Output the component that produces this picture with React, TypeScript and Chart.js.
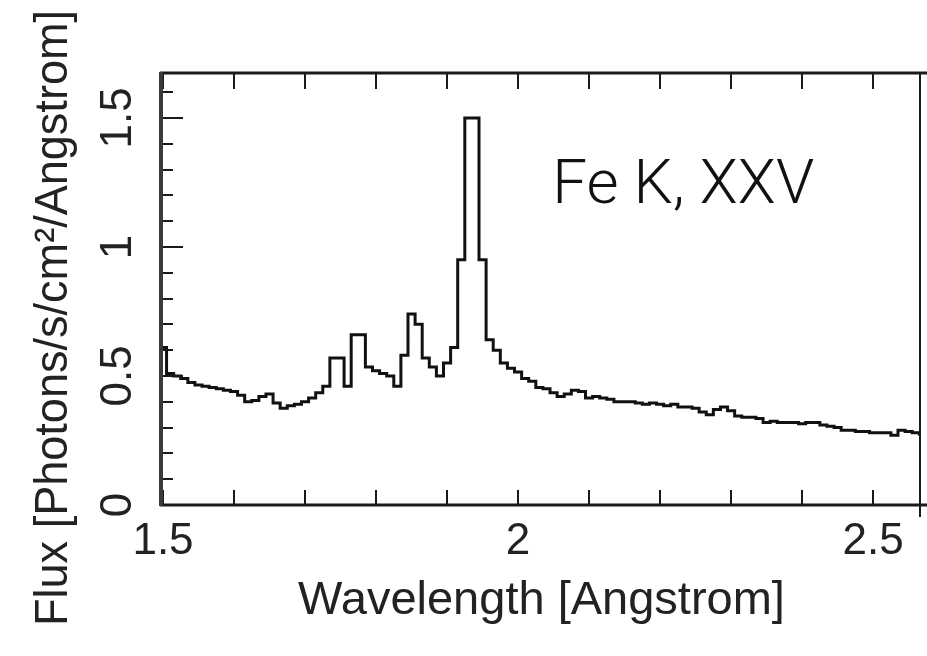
import { useEffect, useRef } from 'react';
import { Chart, registerables } from 'chart.js';

Chart.register(...registerables);

// ---- data ----
// Bin centres every 0.01 Angstrom starting at 1.50
const binStart = 1.5;
const binWidth = 0.01;
const flux = [
  0.61, 0.51, 0.50, 0.49, 0.475, 0.465, 0.46, 0.455, 0.45, 0.445,
  0.44, 0.425, 0.40, 0.405, 0.42, 0.43, 0.395, 0.375, 0.385, 0.39,
  0.40, 0.415, 0.435, 0.46, 0.57, 0.57, 0.46, 0.66, 0.66, 0.535,
  0.52, 0.51, 0.50, 0.46, 0.58, 0.74, 0.70, 0.57, 0.535, 0.50,
  0.55, 0.61, 0.95, 1.50, 1.50, 0.95, 0.64, 0.60, 0.55, 0.53,
  0.515, 0.49, 0.48, 0.455, 0.45, 0.435, 0.42, 0.43, 0.445, 0.44,
  0.415, 0.42, 0.415, 0.41, 0.40, 0.40, 0.40, 0.395, 0.39, 0.395,
  0.39, 0.385, 0.39, 0.38, 0.38, 0.375, 0.36, 0.35, 0.37, 0.38,
  0.365, 0.345, 0.34, 0.34, 0.335, 0.32, 0.325, 0.32, 0.32, 0.32,
  0.315, 0.32, 0.32, 0.31, 0.305, 0.30, 0.29, 0.29, 0.285, 0.285,
  0.28, 0.28, 0.28, 0.27, 0.29, 0.285, 0.28, 0.275,
];

const xTicks = [1.5, 1.6, 1.7, 1.8, 1.9, 2.0, 2.1, 2.2, 2.3, 2.4, 2.5];
const xTickLabels = ['1.5', '', '', '', '', '2', '', '', '', '', '2.5'];
const yTicks = [0, 0.1, 0.2, 0.3, 0.4, 0.5, 0.6, 0.7, 0.8, 0.9, 1.0, 1.1, 1.2, 1.3, 1.4, 1.5, 1.6];
const yTickLabels = ['0', '', '', '', '', '0.5', '', '', '', '', '1', '', '', '', '', '1.5', ''];
const yMajorTicks = [0, 0.5, 1.0, 1.5];

const xMin = 1.5;
const xMax = 2.566;
const yMin = 0;
const yMax = 1.674;

const xTitle = 'Wavelength [Angstrom]';
const yTitle = 'Flux [Photons/s/cm²/Angstrom]';
const annotationText = 'Fe K, XXV';
const annotationX = 2.048;
const annotationY = 1.17;

const FONT = "'Liberation Sans', Arial, Helvetica, sans-serif";

const framePlugin = {
  id: 'frame',
  afterDatasetsDraw(chart: any) {
    const { ctx, chartArea } = chart;
    const xs = chart.scales.x;
    const ys = chart.scales.y;
    const { left, right, top, bottom } = chartArea;
    const W = chart.width;
    ctx.save();
    ctx.lineCap = 'butt';
    // x ticks, top and bottom, pointing inward
    ctx.strokeStyle = '#1a1a1a';
    ctx.lineWidth = 2;
    xTicks.forEach((v) => {
      const px = Math.round(xs.getPixelForValue(v));
      ctx.beginPath();
      ctx.moveTo(px, top);
      ctx.lineTo(px, top + 16);
      ctx.moveTo(px, bottom);
      ctx.lineTo(px, bottom - 15);
      ctx.stroke();
    });
    // y ticks on the left
    yTicks.forEach((v) => {
      const py = Math.round(ys.getPixelForValue(v));
      const major = yMajorTicks.some((m) => Math.abs(m - v) < 1e-9);
      ctx.beginPath();
      ctx.moveTo(left, py);
      ctx.lineTo(left + (major ? 20 : 10), py);
      ctx.stroke();
    });
    // frame
    ctx.strokeStyle = '#1a1a1a';
    ctx.lineWidth = 3;
    ctx.beginPath();
    ctx.moveTo(left - 3, top);
    ctx.lineTo(W, top);
    ctx.moveTo(left - 3, bottom);
    ctx.lineTo(W, bottom);
    ctx.stroke();
    ctx.lineWidth = 2;
    ctx.beginPath();
    ctx.moveTo(right, top);
    ctx.lineTo(right, bottom + 12);
    ctx.stroke();
    ctx.strokeStyle = '#3a3a3a';
    ctx.lineWidth = 4;
    ctx.beginPath();
    ctx.moveTo(left - 2, top - 1);
    ctx.lineTo(left - 2, bottom + 1);
    ctx.stroke();

    // y axis title (drawn manually so it is not squeezed to the axis height)
    ctx.save();
    ctx.font = `47px ${FONT}`;
    const tw = ctx.measureText(yTitle).width;
    const target = 616;
    ctx.translate(54, 318);
    ctx.rotate(-Math.PI / 2);
    ctx.scale(Math.min(1, target / tw), 1);
    ctx.fillStyle = '#222';
    ctx.textAlign = 'center';
    ctx.textBaseline = 'middle';
    ctx.fillText(yTitle, 0, 0);
    ctx.restore();

    // annotation
    ctx.fillStyle = '#111';
    ctx.font = `300 62px Roboto, ${FONT}`;
    ctx.textAlign = 'left';
    ctx.textBaseline = 'alphabetic';
    ctx.fillText(annotationText, xs.getPixelForValue(annotationX), ys.getPixelForValue(annotationY));
    ctx.restore();
  },
};

export default function App() {
  const canvasRef = useRef<HTMLCanvasElement | null>(null);

  useEffect(() => {
    const canvas = canvasRef.current;
    if (!canvas) return;
    const points = flux.map((y, i) => ({ x: binStart + i * binWidth, y }));
    const chart = new Chart(canvas, {
      type: 'line',
      data: {
        datasets: [
          {
            data: points,
            borderColor: '#111',
            borderWidth: 3,
            pointRadius: 0,
            stepped: 'middle',
            fill: false,
            borderJoinStyle: 'miter',
          },
        ],
      },
      options: {
        animation: false,
        responsive: false,
        maintainAspectRatio: false,
        layout: { padding: { left: 0, top: 73, right: 7, bottom: 0 } },
        plugins: { legend: { display: false }, tooltip: { enabled: false } },
        scales: {
          x: {
            type: 'linear',
            min: xMin,
            max: xMax,
            afterBuildTicks: (s: any) => {
              s.ticks = xTicks.map((v) => ({ value: v }));
            },
            afterFit: (s: any) => {
              s.height = 151;
            },
            grid: { display: false, drawTicks: false },
            border: { display: false },
            ticks: {
              autoSkip: false,
              minRotation: 0,
              maxRotation: 0,
              padding: 10,
              color: '#222',
              font: { family: FONT, size: 44 },
              callback: (value: any) => {
                const i = xTicks.findIndex((t) => Math.abs(t - Number(value)) < 1e-9);
                return i >= 0 ? xTickLabels[i] : '';
              },
            },
            title: {
              display: true,
              text: xTitle,
              color: '#222',
              font: { family: FONT, size: 47 },
              padding: { top: 0, bottom: 27 },
            },
          },
          y: {
            type: 'linear',
            min: yMin,
            max: yMax,
            afterBuildTicks: (s: any) => {
              s.ticks = yTicks.map((v) => ({ value: v }));
            },
            afterFit: (s: any) => {
              s.width = 163;
            },
            grid: { display: false, drawTicks: false },
            border: { display: false },
            ticks: {
              autoSkip: false,
              minRotation: 90,
              maxRotation: 90,
              crossAlign: 'center',
              padding: 14,
              color: '#222',
              font: { family: FONT, size: 44 },
              callback: (value: any) => {
                const i = yTicks.findIndex((t) => Math.abs(t - Number(value)) < 1e-9);
                return i >= 0 ? yTickLabels[i] : '';
              },
            },
          },
        },
      },
      plugins: [framePlugin],
    } as any);
    return () => chart.destroy();
  }, []);

  return (
    <div style={{ position: 'absolute', left: 0, top: 0, width: 927, height: 656, background: '#fff' }}>
      <canvas ref={canvasRef} width={927} height={656} style={{ display: 'block' }} />
    </div>
  );
}
